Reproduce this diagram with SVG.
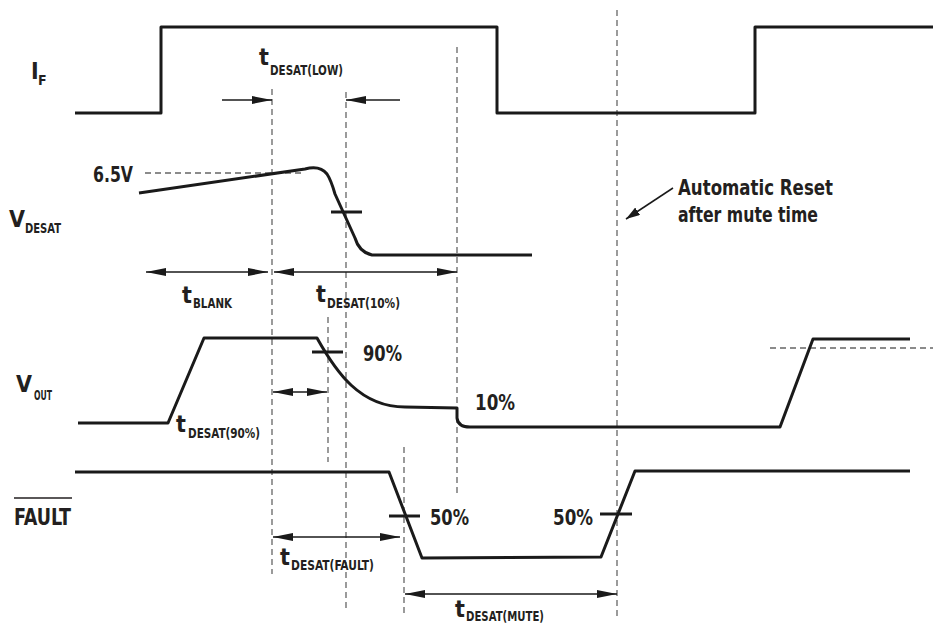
<svg xmlns="http://www.w3.org/2000/svg" width="933" height="626" viewBox="0 0 933 626">
<defs>
<style>
.w{fill:none;stroke:#1a1a1a;stroke-width:3;stroke-linejoin:round;stroke-linecap:butt}
.d{fill:none;stroke:#666;stroke-width:1.3;stroke-dasharray:6,4}
.a{fill:none;stroke:#1a1a1a;stroke-width:1.5}
.tk{fill:none;stroke:#1a1a1a;stroke-width:3}
text{font-family:"Liberation Sans Narrow","DejaVu Sans Condensed","Liberation Sans",sans-serif;font-weight:bold;fill:#231f20}
.L{font-size:23px}
.s{font-size:14px}
.m{font-size:22px}
</style>
<marker id="ah" viewBox="0 0 20 8" refX="20" refY="4" markerWidth="20" markerHeight="8" orient="auto-start-reverse" markerUnits="userSpaceOnUse"><path d="M0,0 L20,4 L0,8 z" fill="#1a1a1a"/></marker>
<marker id="ah2" viewBox="0 0 14 9" refX="14" refY="4.5" markerWidth="14" markerHeight="9" orient="auto" markerUnits="userSpaceOnUse"><path d="M0,0 L14,4.5 L0,9 z" fill="#1a1a1a"/></marker>
</defs>
<rect width="933" height="626" fill="#fff"/>

<g id="connectors">
<line class="d" x1="272" y1="89" x2="272" y2="574"/>
<line class="d" x1="346" y1="92" x2="346" y2="612"/>
<line class="d" x1="457" y1="47" x2="457" y2="495"/>
<line class="d" x1="328" y1="317" x2="328" y2="462"/>
<line class="d" x1="404" y1="447" x2="404" y2="615"/>
<line class="d" x1="617" y1="10" x2="617" y2="618"/>
<line class="d" x1="145" y1="173" x2="303" y2="173"/>
<line class="d" x1="770" y1="348" x2="933" y2="348"/>
<line class="a" x1="222" y1="100" x2="272" y2="100" marker-end="url(#ah)"/>
<line class="a" x1="400" y1="100" x2="346" y2="100" marker-end="url(#ah)"/>
<line class="a" x1="146" y1="272" x2="268" y2="272" marker-start="url(#ah)" marker-end="url(#ah)"/>
<line class="a" x1="274" y1="272" x2="457" y2="272" marker-start="url(#ah)" marker-end="url(#ah)"/>
<line class="a" x1="273" y1="392" x2="327" y2="392" marker-start="url(#ah)" marker-end="url(#ah)"/>
<line class="a" x1="273" y1="537" x2="400" y2="537" marker-start="url(#ah)" marker-end="url(#ah)"/>
<line class="a" x1="405" y1="594" x2="617" y2="594" marker-start="url(#ah)" marker-end="url(#ah)"/>
<line class="a" x1="673" y1="188" x2="626" y2="219" marker-end="url(#ah2)"/>
</g>

<g id="IF">
<path class="w" d="M75,113 H161 V27 H497 V113 H755 V27 H933"/>
<text class="L" x="31" y="79">I</text>
<text class="s" x="38" y="85">F</text>
</g>

<g id="VDESAT">
<path class="w" d="M139,193 L305,169 Q320,165 327,174 Q331,180 335,194 L355,238 Q359,252 372,255 L532,255"/>
<line class="tk" x1="331" y1="212" x2="362" y2="212"/>
<text class="m" x="93" y="182" textLength="40" lengthAdjust="spacingAndGlyphs">6.5V</text>
<text class="L" x="9" y="227">V</text>
<text class="s" x="25" y="233" textLength="36" lengthAdjust="spacingAndGlyphs">DESAT</text>
</g>

<g id="VOUT">
<path class="w" d="M78,423 H168 L204,338 H317 C336,372 360,407 405,407 L457,408 V418 Q458,427 470,427 H780 L813,339 H910"/>
<line class="tk" x1="312" y1="352" x2="343" y2="352"/>
<text class="m" x="363" y="361" textLength="39" lengthAdjust="spacingAndGlyphs">90%</text>
<text class="m" x="475" y="410" textLength="40" lengthAdjust="spacingAndGlyphs">10%</text>
<text class="L" x="16" y="392">V</text>
<text class="s" x="34" y="400" textLength="18" lengthAdjust="spacingAndGlyphs">OUT</text>
</g>

<g id="FAULT">
<path class="w" d="M75,472 H389 L422,558 L601,557 L635,471 H910"/>
<line class="tk" x1="389" y1="516" x2="420" y2="516"/>
<line class="tk" x1="600" y1="514" x2="632" y2="514"/>
<text class="m" x="430" y="525" textLength="39" lengthAdjust="spacingAndGlyphs">50%</text>
<text class="m" x="553" y="525" textLength="40" lengthAdjust="spacingAndGlyphs">50%</text>
<text class="L" x="14" y="525" textLength="57" lengthAdjust="spacingAndGlyphs">FAULT</text>
<line x1="14" y1="498" x2="72" y2="498" stroke="#231f20" stroke-width="1.5"/>
</g>

<g id="labels">
<text class="L" x="259" y="65">t</text>
<text class="s" x="270" y="75" textLength="73" lengthAdjust="spacingAndGlyphs">DESAT(LOW)</text>
<text class="L" x="182" y="303">t</text>
<text class="s" x="193" y="308" textLength="39" lengthAdjust="spacingAndGlyphs">BLANK</text>
<text class="L" x="316" y="302">t</text>
<text class="s" x="327" y="308" textLength="73" lengthAdjust="spacingAndGlyphs">DESAT(10%)</text>
<text class="L" x="176" y="432">t</text>
<text class="s" x="188" y="438" textLength="72" lengthAdjust="spacingAndGlyphs">DESAT(90%)</text>
<text class="L" x="280" y="565">t</text>
<text class="s" x="291" y="570" textLength="83" lengthAdjust="spacingAndGlyphs">DESAT(FAULT)</text>
<text class="L" x="455" y="617">t</text>
<text class="s" x="466" y="621" font-size="13" textLength="78" lengthAdjust="spacingAndGlyphs">DESAT(MUTE)</text>
<text class="m" x="678" y="195" font-size="20" textLength="155" lengthAdjust="spacingAndGlyphs">Automatic Reset</text>
<text class="m" x="678" y="222" font-size="20" textLength="140" lengthAdjust="spacingAndGlyphs">after mute time</text>
</g>
</svg>
